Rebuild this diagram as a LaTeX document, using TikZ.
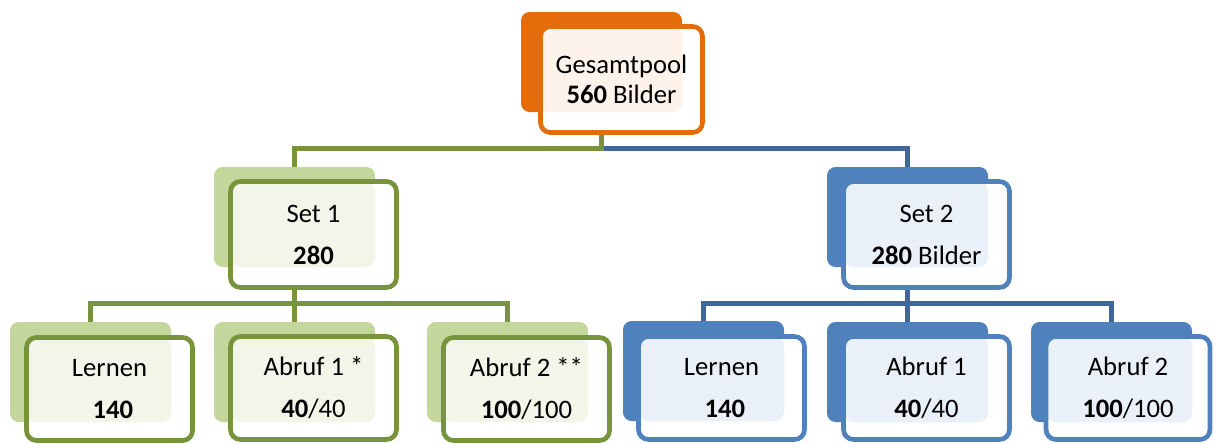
\documentclass[tikz,border=0pt]{standalone}
\usepackage{fontspec}
\setmainfont{Carlito}
\usetikzlibrary{backgrounds}
\definecolor{orn}{HTML}{E46C0A}
\definecolor{grn}{HTML}{77933C}
\definecolor{lgrn}{HTML}{C3D69B}
\definecolor{blu}{HTML}{4F81BD}
\definecolor{dblu}{HTML}{41679A}
\begin{document}
\begin{tikzpicture}[x=0.75pt,y=-0.75pt,
  backbox/.style={fill=#1, rounded corners=6.5pt, minimum width=120.75pt, minimum height=75pt, inner sep=0pt},
  frontbox/.style n args={3}{draw=#2, line width=3.5pt, fill=white, rounded corners=7.5pt,
    minimum width=124.5pt, minimum height=79.5pt, inner sep=0pt, align=center,
    font=\fontsize{20}{31.5}\selectfont,
    path picture={\fill[#3] (path picture bounding box.north west) rectangle (#1.south east);}},
  lowbox/.style={minimum height=77.25pt},
  gline/.style={draw=grn, line width=3.75pt},
  bline/.style={draw=dblu, line width=3.75pt}]
\path[use as bounding box] (0,0) rectangle (1213,443);

% top
\node[backbox=orn] (gb) at (601.5,62) {};
\node[frontbox={gb}{orn}{orn!8}, minimum width=121.5pt, font=\fontsize{20}{22.5}\selectfont] (gf) at (621.5,79.5) {Gesamtpool\\\textbf{560} Bilder};

% set 1
\node[backbox=lgrn] (s1b) at (294.5,217) {};
\node[frontbox={s1b}{grn}{lgrn!22}] (s1f) at (313.5,234.5) {Set 1\\\textbf{280}};

% set 2
\node[backbox=blu] (s2b) at (907.5,217) {};
\node[frontbox={s2b}{blu}{blu!12}] (s2f) at (926.5,234.5) {Set 2\\\textbf{280} Bilder};

% green children
\node[backbox=lgrn] (gl1b) at (90.5,372) {};
\node[frontbox={gl1b}{grn}{lgrn!22}, lowbox] (gl1f) at (109.5,389) {Lernen\\\hspace*{0.25em}\textbf{140}};
\node[backbox=lgrn] (ga1b) at (294.5,372) {};
\node[frontbox={ga1b}{grn}{lgrn!22}, lowbox] (ga1f) at (313.5,388) {Abruf 1 *\\\textbf{40}/40};
\node[backbox=lgrn] (ga2b) at (507.5,372) {};
\node[frontbox={ga2b}{grn}{lgrn!22}, lowbox] (ga2f) at (526.5,389) {Abruf 2 **\\\textbf{100}/100};

% blue children
\node[backbox=blu] (bl1b) at (703.5,371) {};
\node[frontbox={bl1b}{blu}{blu!12}, lowbox] (bl1f) at (721.5,388) {Lernen\\\hspace*{0.25em}\textbf{140}};
\node[backbox=blu] (ba1b) at (907.5,372) {};
\node[frontbox={ba1b}{blu}{blu!12}, lowbox] (ba1f) at (926.5,388) {Abruf 1\\\textbf{40}/40};
\node[backbox=blu] (ba2b) at (1111.5,372) {};
\node[frontbox={ba2b}{blu}{blu!12}, lowbox, minimum width=123pt] (ba2f) at (1128,388) {Abruf 2\\\textbf{100}/100};

\begin{scope}[on background layer]
  \coordinate (j0) at (601.5,148);
  \coordinate (j1) at (294.5,303);
  \coordinate (j2) at (907.5,303);
  \draw[bline] (j0) -| (s2b.north);
  \draw[gline] (gb.center |- gf.south) -- (j0) -| (s1b.north);
  \draw[gline] (s1b.center |- s1f.south) -- (j1);
  \draw[gline] (gl1b.north) |- (j1) -| (ga2b.north);
  \draw[gline] (j1) -- (ga1b.north);
  \draw[bline] (s2b.center |- s2f.south) -- (j2);
  \draw[bline] (bl1b.north) |- (j2) -| (ba2b.north);
  \draw[bline] (j2) -- (ba1b.north);
\end{scope}
\end{tikzpicture}
\end{document}
